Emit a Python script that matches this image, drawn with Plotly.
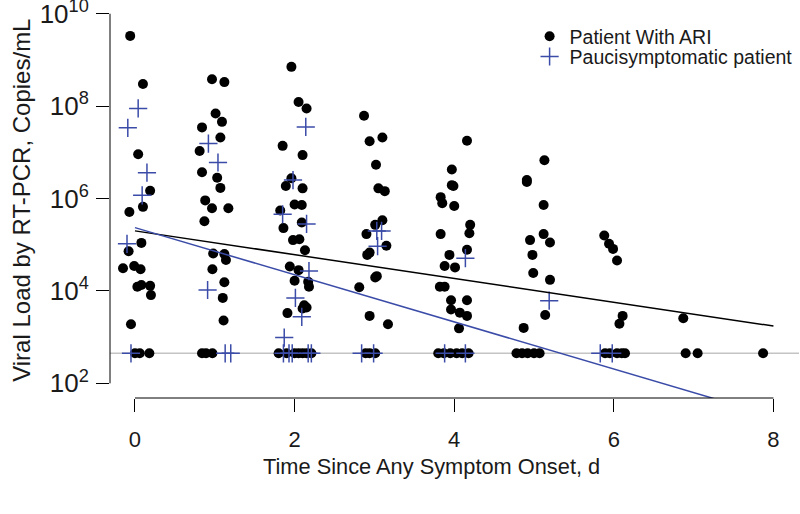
import plotly.graph_objects as go

# viral load values are log10(copies/mL); x is jittered days since onset
LOD = 2.65  # detection limit row

ari_days = [
    -0.06, 0.10, 0.04, 0.19, -0.07, 0.10, -0.08, 0.08, -0.15, -0.01, 0.07, 0.03, 0.08, 0.19, 0.20, -0.05,
    0.00, 0.06, 0.18,
    0.965, 1.12, 1.01, 1.09, 0.84, 1.07, 0.81, 0.84, 1.03, 1.07, 0.88, 0.965, 1.17, 0.87, 0.98, 1.12,
    1.14, 0.97, 1.12, 1.10, 1.11,
    0.84, 0.89, 0.97,
    1.96, 2.05, 2.15, 1.85, 2.10, 1.96, 1.89, 2.10, 2.00, 2.09, 1.82, 1.86, 2.09, 1.98, 2.06, 2.13,
    1.94, 2.05, 2.00, 2.17, 2.18, 2.12, 2.15, 2.10, 1.91,
    1.80, 1.90, 2.00, 2.05, 2.10, 2.15, 2.21,
    2.87, 2.94, 3.10, 3.02, 3.05, 3.13, 3.10, 3.01, 2.90, 3.15, 2.91, 2.94, 3.01, 3.03, 2.81, 2.94, 3.17,
    2.89, 2.94, 3.01,
    4.16, 3.97, 3.99, 3.97, 3.83, 3.85, 4.00, 4.20, 4.19, 3.83, 4.16, 3.94, 3.88, 4.01, 3.82, 3.88,
    3.96, 4.16, 3.96, 4.07, 4.16, 4.06,
    3.80, 3.87, 3.95, 4.03, 4.10, 4.18,
    5.13, 4.91, 4.91, 5.12, 4.95, 5.12, 5.20, 4.98, 4.99, 5.20, 5.14, 4.87,
    4.78, 4.85, 4.92, 5.00, 5.07,
    5.88, 5.94, 5.99, 6.04, 6.11, 6.07,
    5.89, 5.95, 6.04, 6.10, 6.14,
    6.87, 6.90, 7.05, 7.87,
]
ari_load = [
    9.52, 8.48, 6.96, 6.17, 5.71, 5.82, 4.86, 5.04, 4.49, 4.54, 4.47, 4.09, 4.13, 4.11, 3.91, 3.28,
    LOD, LOD, LOD,
    8.58, 8.52, 7.84, 7.66, 7.54, 7.32, 7.03, 6.57, 6.45, 6.23, 5.96, 5.79, 5.79, 5.51, 4.81, 4.80,
    4.67, 4.47, 4.19, 3.85, 3.36,
    LOD, LOD, LOD,
    8.85, 8.09, 7.95, 7.14, 6.94, 6.44, 6.27, 6.22, 5.87, 5.86, 5.74, 5.36, 5.48, 5.10, 5.12, 4.88,
    4.53, 4.45, 4.22, 4.20, 4.09, 3.69, 3.64, 3.62, 3.52,
    LOD, LOD, LOD, LOD, LOD, LOD, LOD,
    7.79, 7.24, 7.32, 6.73, 6.22, 6.16, 5.53, 5.43, 5.23, 4.98, 4.78, 4.83, 4.29, 4.32, 4.08, 3.46, 3.28,
    LOD, LOD, LOD,
    7.25, 6.63, 6.27, 6.29, 6.03, 5.90, 5.84, 5.43, 5.25, 5.23, 4.89, 4.78, 4.54, 4.51, 4.09, 4.09,
    3.80, 3.80, 3.60, 3.53, 3.46, 3.19,
    LOD, LOD, LOD, LOD, LOD, LOD,
    6.83, 6.36, 6.40, 5.86, 5.10, 5.23, 5.05, 4.78, 4.39, 4.24, 3.48, 3.20,
    LOD, LOD, LOD, LOD, LOD,
    5.20, 5.02, 4.91, 4.66, 3.46, 3.29,
    LOD, LOD, LOD, LOD, LOD,
    3.41, LOD, LOD, LOD,
]

pauci_days = [
    0.04, -0.09, 0.15, 0.09, -0.10, -0.05,
    0.92, 1.04, 0.91, 1.13, 1.20,
    2.14, 1.98, 1.85, 2.15, 2.18, 2.01, 2.09, 1.87, 1.86, 1.93, 1.97, 2.17, 2.21,
    3.03, 3.09, 3.04, 2.84, 2.99,
    4.14, 3.88, 4.14,
    5.19,
    5.83, 5.98,
]
pauci_load = [
    7.95, 7.53, 6.56, 6.07, 5.02, LOD,
    7.19, 6.78, 4.02, LOD, LOD,
    7.55, 6.40, 5.66, 5.45, 4.43, 3.85, 3.44, 2.99, LOD, LOD, LOD, LOD, LOD,
    5.30, 5.30, 4.97, LOD, LOD,
    4.71, LOD, LOD,
    3.79,
    LOD, LOD,
]

# fitted regression lines (log10 scale), evaluated at day 0 and day 8
fit_days = [0, 8]
ari_fit = [5.30, 3.24]
pauci_fit = [5.37, 1.29]

x_ticks = [0, 2, 4, 6, 8]
y_ticks = [2, 4, 6, 8, 10]
y_ticklabels = ["10<sup>%d</sup>" % p for p in y_ticks]

BLUE = "#3b4ca8"
FONT = "Liberation Sans, Arial, Helvetica, sans-serif"

fig = go.Figure()

fig.add_trace(go.Scatter(
    x=ari_days, y=ari_load, mode="markers", name="Patient With ARI",
    marker=dict(symbol="circle", size=10, color="black", line=dict(width=0)),
    legend="legend",
))
fig.add_trace(go.Scatter(
    x=pauci_days, y=pauci_load, mode="markers", name="Paucisymptomatic patient",
    marker=dict(symbol="cross-thin", size=13, line=dict(width=1.5, color=BLUE)),
    legend="legend2",
))
fig.add_trace(go.Scatter(x=fit_days, y=ari_fit, mode="lines",
                         line=dict(color="black", width=1.5), showlegend=False))
fig.add_trace(go.Scatter(x=fit_days, y=pauci_fit, mode="lines",
                         line=dict(color=BLUE, width=1.5), showlegend=False))

# detection limit
fig.add_shape(type="line", xref="paper", yref="y", x0=0, x1=1, y0=LOD, y1=LOD,
              line=dict(color="#c4c4c4", width=1.5), layer="below")
# R-style axis lines spanning only the tick range
fig.add_shape(type="line", xref="x", yref="paper", x0=x_ticks[0], x1=x_ticks[-1], y0=0, y1=0,
              line=dict(color="black", width=1))
fig.add_shape(type="line", xref="paper", yref="y", x0=0, x1=0, y0=y_ticks[0], y1=y_ticks[-1],
              line=dict(color="black", width=1))

fig.add_annotation(text="Time Since Any Symptom Onset, d", xref="paper", yref="paper",
                   x=0.466, y=-0.173, xanchor="center", yanchor="middle", showarrow=False,
                   font=dict(size=21.8, color="#1a1a1a"))
fig.add_annotation(text="Viral Load by RT-PCR, Copies/mL", xref="paper", yref="paper",
                   x=-0.128, y=0.4975, xanchor="center", yanchor="middle", showarrow=False,
                   textangle=-90, font=dict(size=24, color="#1a1a1a"))

fig.update_layout(
    width=800, height=514,
    margin=dict(l=110, r=1, t=0, b=116, autoexpand=False),
    paper_bgcolor="white", plot_bgcolor="white",
    font=dict(family=FONT, color="#1a1a1a"),
    legend=dict(x=0.609, y=0.908, xanchor="left", yanchor="middle",
                font=dict(size=19.5), bgcolor="rgba(0,0,0,0)"),
    legend2=dict(x=0.609, y=0.8572, xanchor="left", yanchor="middle",
                 font=dict(size=19.5), bgcolor="rgba(0,0,0,0)"),
    xaxis=dict(range=[-0.313, 8.32], tickvals=x_ticks, ticks="outside", ticklen=13,
               tickcolor="black", tickwidth=1, showgrid=False, zeroline=False, showline=False,
               tickfont=dict(size=22), ticklabelstandoff=9, automargin=False),
    yaxis=dict(range=[1.683, 10.297], tickvals=y_ticks, ticktext=y_ticklabels, ticks="outside",
               ticklen=13, tickcolor="black", tickwidth=1, showgrid=False, zeroline=False,
               showline=False, tickfont=dict(size=26), ticklabelstandoff=2,
               ticklabeloverflow="allow", automargin=False),
)

# drop the default 8px page margin so the figure sits at the window's top-left corner
fig.write_html("out.html", config={"displayModeBar": False},
               post_script="document.body.style.margin='0px';")
